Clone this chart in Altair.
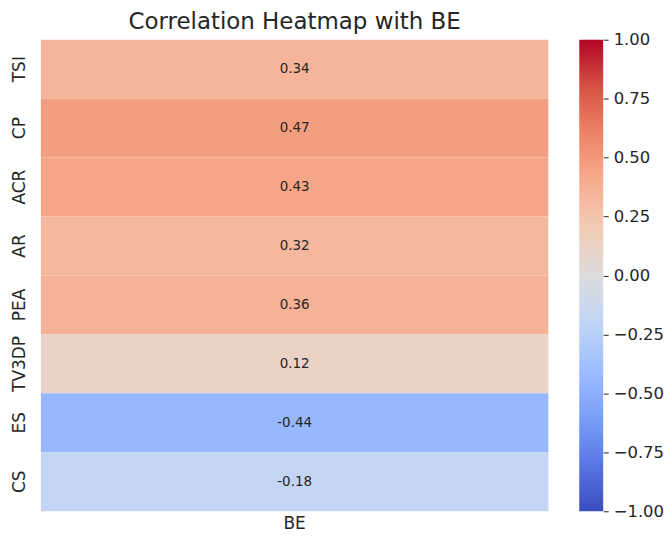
import altair as alt
import pandas as pd

features = ["TSI", "CP", "ACR", "AR", "PEA", "TV3DP", "ES", "CS"]
target = ["BE"] * 8
corr = [0.34, 0.47, 0.43, 0.32, 0.36, 0.12, -0.44, -0.18]

tick_values = [-1.0, -0.75, -0.5, -0.25, 0.0, 0.25, 0.5, 0.75, 1.0]
coolwarm = ["#3b4cc0", "#5977e3", "#7b9ff9", "#9ebeff", "#c0d4f5", "#dddcdc",
            "#f2cbb7", "#f7ac8e", "#ee8468", "#d65244", "#b40426"]
cw_domain = [-1.0, -0.8, -0.6, -0.4, -0.2, 0.0, 0.2, 0.4, 0.6, 0.8, 1.0]

df = pd.DataFrame({"feature": features, "target": target, "corr": corr})
df["label"] = [f"{v:.2f}" for v in corr]

FONT = "DejaVu Sans"
TXT = "#262626"
H = 473

color_scale = alt.Scale(domain=cw_domain, range=coolwarm, interpolate="rgb")

base = alt.Chart(df).encode(
    x=alt.X("target:N", title=None,
            axis=alt.Axis(labelAngle=0, ticks=False, domain=False, labelFontSize=17,
                          labelPadding=4, labelColor=TXT, labelFont=FONT)),
    y=alt.Y("feature:N", sort=features, title=None,
            axis=alt.Axis(labelAngle=270, labelAlign="center", labelBaseline="bottom",
                          ticks=False, domain=False, labelFontSize=17, labelPadding=12,
                          labelColor=TXT, labelFont=FONT)),
)

rects = base.mark_rect().encode(
    color=alt.Color("corr:Q", scale=color_scale, legend=None)
)
texts = base.mark_text(fontSize=13.5, font=FONT, color=TXT).encode(text="label:N")

heat = alt.layer(rects, texts).properties(
    width=509, height=H,
    title=alt.TitleParams("Correlation Heatmap with BE", fontSize=23, font=FONT,
                          fontWeight="normal", color=TXT, offset=6),
)

stops = [alt.GradientStop(color=c, offset=(d + 1) / 2) for c, d in zip(coolwarm, cw_domain)]
grad = alt.LinearGradient(gradient="linear", stops=stops, x1=0, y1=1, x2=0, y2=0)

cbar = alt.Chart(pd.DataFrame({"lo": [-1.0], "hi": [1.0]})).mark_rect(fill=grad).encode(
    x=alt.value(0), x2=alt.value(24),
    y=alt.Y("lo:Q", scale=alt.Scale(domain=[-1, 1], nice=False, zero=False), title=None,
            axis=alt.Axis(orient="right", values=tick_values, format=".2f", grid=False,
                          domain=False, tickSize=5, tickColor=TXT, labelPadding=5,
                          labelFontSize=16.5, labelColor=TXT, labelFont=FONT)),
    y2="hi:Q",
).properties(width=24, height=H)

chart = alt.hconcat(heat, cbar, spacing=31).configure_view(stroke=None).properties(
    background="white",
    padding={"left": 3, "top": 2, "right": 0, "bottom": 0},
)

chart.save("out.html", embed_options={"renderer": "svg", "actions": False})
